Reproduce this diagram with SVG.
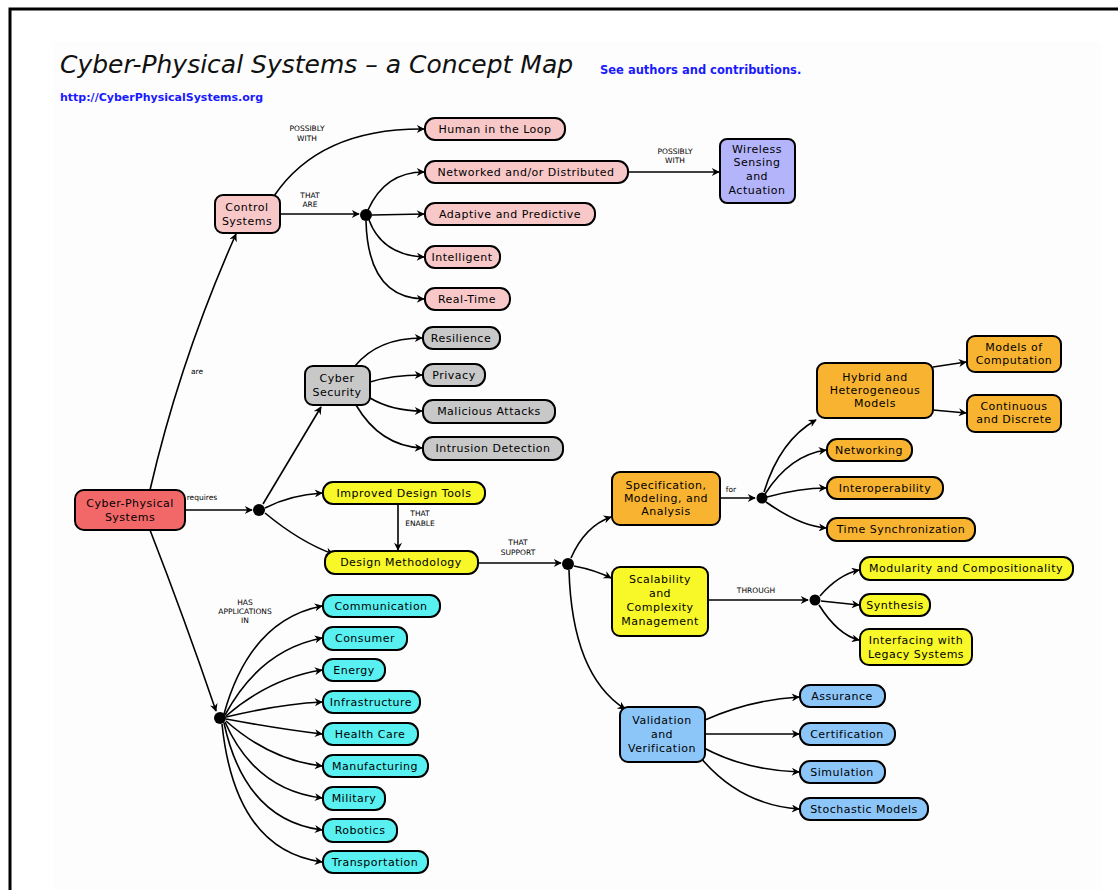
<svg xmlns="http://www.w3.org/2000/svg" width="1118" height="890" viewBox="0 0 1118 890">
  <defs>
    <marker id="arrow" viewBox="0 0 10 10" refX="9" refY="5" markerWidth="10" markerHeight="8" orient="auto" markerUnits="userSpaceOnUse">
      <path d="M0,0 L10,5 L0,10 L3,5 Z" fill="#000"/>
    </marker>
    <style>
      .node rect { stroke: #000; stroke-width: 2; }
      .node text { font-family: "DejaVu Sans", Verdana, sans-serif; font-size: 11px; letter-spacing: 0.5px; fill: #000; text-anchor: middle; }
      .cps rect { fill: #f26868; }
      .ctl rect { fill: #f8c8c8; }
      .wsa rect { fill: #b4b4fa; }
      .sec rect { fill: #c8c8c8; }
      .yel rect { fill: #f8f828; }
      .org rect { fill: #f8b430; }
      .blu rect { fill: #8cc6f8; }
      .cyn rect { fill: #58f0f0; }
      .links path { fill: none; stroke: #000; stroke-width: 1.6; marker-end: url(#arrow); }
      .links circle { fill: #000; }
      .lbl { font-family: "DejaVu Sans", Verdana, sans-serif; font-size: 7.5px; fill: #000; text-anchor: middle; }
      .title { font-family: "DejaVu Sans", Verdana, sans-serif; font-style: italic; font-size: 25px; fill: #111; }
      .link { font-family: "DejaVu Sans", Verdana, sans-serif; font-weight: bold; fill: #1a1aff; }
    </style>
  </defs>

  <!-- page -->
  <rect x="0" y="0" width="1118" height="890" fill="#fff"/>
  <rect x="10" y="9" width="1120" height="900" fill="none" stroke="#000" stroke-width="3"/>
  <rect x="53" y="42" width="1048" height="848" fill="#fdfdfd"/>

  <!-- heading -->
  <text class="title" x="60" y="73">Cyber-Physical Systems – a Concept Map</text>
  <text class="link" x="600" y="74" font-size="11.5">See authors and contributions.</text>
  <text class="link" x="60" y="101" font-size="11">http://CyberPhysicalSystems.org</text>

  <!-- connectors -->
  <g id="connectors" class="links">
    <!-- from Cyber-Physical Systems -->
    <path d="M150,490 Q180,360 236,234"/>
    <path d="M185,510 L252,510"/>
    <path d="M150,530 Q185,620 216,711"/>
    <circle cx="259" cy="510" r="6"/>
    <circle cx="220" cy="718" r="6"/>

    <!-- Control Systems -->
    <path d="M280,214 L359,214"/>
    <path d="M274,196 Q320,128 424,129"/>
    <circle cx="366" cy="215" r="6"/>
    <path d="M368,210 Q385,172 424,172"/>
    <path d="M372,215 L424,214"/>
    <path d="M369,220 Q382,255 424,257"/>
    <path d="M366,221 Q368,298 424,299"/>
    <path d="M628,172 L719,172"/>

    <!-- requires -->
    <path d="M263,504 L321,407"/>
    <path d="M265,508 Q290,495 322,493"/>
    <path d="M265,513 Q300,542 333,554"/>

    <!-- Cyber Security -->
    <path d="M355,366 Q378,338 422,338"/>
    <path d="M370,382 Q392,375 422,375"/>
    <path d="M370,398 Q392,411 422,411"/>
    <path d="M356,405 Q380,446 422,448"/>

    <!-- design tools / methodology -->
    <path d="M398,504 L398,550"/>
    <path d="M478,563 L561,563"/>
    <circle cx="568" cy="564" r="6"/>
    <path d="M571,558 Q585,526 611,517"/>
    <path d="M574,566 Q595,570 611,578"/>
    <path d="M569,570 Q572,675 625,709"/>

    <!-- Specification -->
    <path d="M720,498 L755,498"/>
    <circle cx="762" cy="498" r="5.5"/>
    <path d="M764,492 Q780,440 816,420"/>
    <path d="M765,494 Q790,455 826,450"/>
    <path d="M767,497 Q800,488 826,488"/>
    <path d="M766,502 Q800,526 826,528"/>
    <path d="M933,367 L966,362"/>
    <path d="M933,410 L966,413"/>

    <!-- Scalability -->
    <path d="M708,600 L808,600"/>
    <circle cx="815" cy="600" r="5.5"/>
    <path d="M820,596 Q838,575 859,570"/>
    <path d="M821,601 L859,605"/>
    <path d="M819,605 Q838,635 859,640"/>

    <!-- Validation -->
    <path d="M705,720 Q750,700 799,697"/>
    <path d="M705,734 L799,734"/>
    <path d="M704,748 Q745,770 799,772"/>
    <path d="M700,757 Q740,805 799,809"/>

    <!-- applications -->
    <path d="M224,714 Q250,620 322,606"/>
    <path d="M225,715 Q260,650 322,638"/>
    <path d="M226,716 Q270,678 322,670"/>
    <path d="M226,717 Q280,704 322,702"/>
    <path d="M226,719 Q280,729 322,734"/>
    <path d="M226,721 Q270,760 322,766"/>
    <path d="M225,722 Q255,790 322,798"/>
    <path d="M224,723 Q245,820 322,830"/>
    <path d="M222,724 Q235,850 322,862"/>
  </g>

  <!-- connector labels -->
  <g id="labels">
    <text class="lbl" x="197" y="374">are</text>
    <text class="lbl" x="202" y="500">requires</text>
    <text class="lbl" x="245" y="605">HAS</text>
    <text class="lbl" x="245" y="614">APPLICATIONS</text>
    <text class="lbl" x="245" y="623">IN</text>
    <text class="lbl" x="310" y="198">THAT</text>
    <text class="lbl" x="310" y="207">ARE</text>
    <text class="lbl" x="307" y="131">POSSIBLY</text>
    <text class="lbl" x="307" y="141">WITH</text>
    <text class="lbl" x="675" y="154">POSSIBLY</text>
    <text class="lbl" x="675" y="163">WITH</text>
    <text class="lbl" x="420" y="516">THAT</text>
    <text class="lbl" x="420" y="526">ENABLE</text>
    <text class="lbl" x="518" y="545">THAT</text>
    <text class="lbl" x="518" y="555">SUPPORT</text>
    <text class="lbl" x="731" y="492">for</text>
    <text class="lbl" x="756" y="593">THROUGH</text>
  </g>

  <!-- concepts -->
  <g id="cps" class="node cps"><rect x="75" y="490" width="110" height="40" rx="9"/><text x="130" y="507">Cyber-Physical</text><text x="130" y="521">Systems</text></g>

  <g id="control" class="node ctl"><rect x="215" y="195" width="65" height="38" rx="8"/><text x="247" y="211">Control</text><text x="247" y="225">Systems</text></g>
  <g id="human" class="node ctl"><rect x="425" y="118" width="140" height="22" rx="10"/><text x="495" y="133">Human in the Loop</text></g>
  <g id="networked" class="node ctl"><rect x="425" y="161" width="203" height="22" rx="10"/><text x="526" y="176">Networked and/or Distributed</text></g>
  <g id="adaptive" class="node ctl"><rect x="425" y="203" width="170" height="22" rx="10"/><text x="510" y="218">Adaptive and Predictive</text></g>
  <g id="intelligent" class="node ctl"><rect x="425" y="246" width="75" height="22" rx="10"/><text x="462" y="261">Intelligent</text></g>
  <g id="realtime" class="node ctl"><rect x="425" y="288" width="85" height="22" rx="10"/><text x="467" y="303">Real-Time</text></g>

  <g id="wireless" class="node wsa"><rect x="720" y="139" width="75" height="64" rx="7"/><text x="757" y="153">Wireless</text><text x="757" y="166">Sensing</text><text x="757" y="180">and</text><text x="757" y="194">Actuation</text></g>

  <g id="security" class="node sec"><rect x="305" y="366" width="65" height="39" rx="8"/><text x="337" y="382">Cyber</text><text x="337" y="396">Security</text></g>
  <g id="resilience" class="node sec"><rect x="423" y="327" width="77" height="22" rx="10"/><text x="461" y="342">Resilience</text></g>
  <g id="privacy" class="node sec"><rect x="423" y="364" width="62" height="22" rx="10"/><text x="454" y="379">Privacy</text></g>
  <g id="malicious" class="node sec"><rect x="423" y="400" width="132" height="23" rx="10"/><text x="489" y="415">Malicious Attacks</text></g>
  <g id="intrusion" class="node sec"><rect x="423" y="437" width="140" height="23" rx="10"/><text x="493" y="452">Intrusion Detection</text></g>

  <g id="tools" class="node yel"><rect x="323" y="482" width="162" height="22" rx="10"/><text x="404" y="497">Improved Design Tools</text></g>
  <g id="methodology" class="node yel"><rect x="325" y="551" width="153" height="23" rx="10"/><text x="401" y="566">Design Methodology</text></g>

  <g id="specification" class="node org"><rect x="612" y="472" width="108" height="53" rx="8"/><text x="666" y="489">Specification,</text><text x="666" y="502">Modeling, and</text><text x="666" y="515">Analysis</text></g>
  <g id="hybrid" class="node org"><rect x="817" y="363" width="116" height="55" rx="8"/><text x="875" y="381">Hybrid and</text><text x="875" y="394">Heterogeneous</text><text x="875" y="407">Models</text></g>
  <g id="moc" class="node org"><rect x="967" y="336" width="94" height="36" rx="8"/><text x="1014" y="351">Models of</text><text x="1014" y="364">Computation</text></g>
  <g id="continuous" class="node org"><rect x="967" y="395" width="94" height="37" rx="8"/><text x="1014" y="410">Continuous</text><text x="1014" y="423">and Discrete</text></g>
  <g id="networking" class="node org"><rect x="827" y="439" width="85" height="22" rx="10"/><text x="869" y="454">Networking</text></g>
  <g id="interop" class="node org"><rect x="827" y="477" width="116" height="22" rx="10"/><text x="885" y="492">Interoperability</text></g>
  <g id="timesync" class="node org"><rect x="827" y="518" width="148" height="23" rx="10"/><text x="901" y="533">Time Synchronization</text></g>

  <g id="scalability" class="node yel"><rect x="612" y="567" width="96" height="69" rx="8"/><text x="660" y="583">Scalability</text><text x="660" y="597">and</text><text x="660" y="611">Complexity</text><text x="660" y="625">Management</text></g>
  <g id="modularity" class="node yel"><rect x="860" y="557" width="213" height="23" rx="10"/><text x="966" y="572">Modularity and Compositionality</text></g>
  <g id="synthesis" class="node yel"><rect x="860" y="594" width="70" height="22" rx="10"/><text x="895" y="609">Synthesis</text></g>
  <g id="legacy" class="node yel"><rect x="860" y="629" width="112" height="36" rx="9"/><text x="916" y="644">Interfacing with</text><text x="916" y="658">Legacy Systems</text></g>

  <g id="validation" class="node blu"><rect x="620" y="707" width="85" height="55" rx="8"/><text x="662" y="724">Validation</text><text x="662" y="738">and</text><text x="662" y="752">Verification</text></g>
  <g id="assurance" class="node blu"><rect x="800" y="685" width="85" height="22" rx="10"/><text x="842" y="700">Assurance</text></g>
  <g id="certification" class="node blu"><rect x="800" y="723" width="95" height="22" rx="10"/><text x="847" y="738">Certification</text></g>
  <g id="simulation" class="node blu"><rect x="800" y="761" width="85" height="22" rx="10"/><text x="842" y="776">Simulation</text></g>
  <g id="stochastic" class="node blu"><rect x="800" y="798" width="128" height="22" rx="10"/><text x="864" y="813">Stochastic Models</text></g>

  <g id="communication" class="node cyn"><rect x="323" y="595" width="117" height="22" rx="10"/><text x="381" y="610">Communication</text></g>
  <g id="consumer" class="node cyn"><rect x="323" y="627" width="84" height="23" rx="10"/><text x="365" y="642">Consumer</text></g>
  <g id="energy" class="node cyn"><rect x="323" y="659" width="62" height="22" rx="10"/><text x="354" y="674">Energy</text></g>
  <g id="infrastructure" class="node cyn"><rect x="323" y="691" width="97" height="22" rx="10"/><text x="371" y="706">Infrastructure</text></g>
  <g id="health" class="node cyn"><rect x="323" y="723" width="95" height="22" rx="10"/><text x="370" y="738">Health Care</text></g>
  <g id="manufacturing" class="node cyn"><rect x="323" y="755" width="105" height="22" rx="10"/><text x="375" y="770">Manufacturing</text></g>
  <g id="military" class="node cyn"><rect x="323" y="787" width="62" height="23" rx="10"/><text x="354" y="802">Military</text></g>
  <g id="robotics" class="node cyn"><rect x="323" y="819" width="74" height="23" rx="10"/><text x="360" y="834">Robotics</text></g>
  <g id="transportation" class="node cyn"><rect x="323" y="851" width="105" height="22" rx="10"/><text x="375" y="866">Transportation</text></g>
</svg>
